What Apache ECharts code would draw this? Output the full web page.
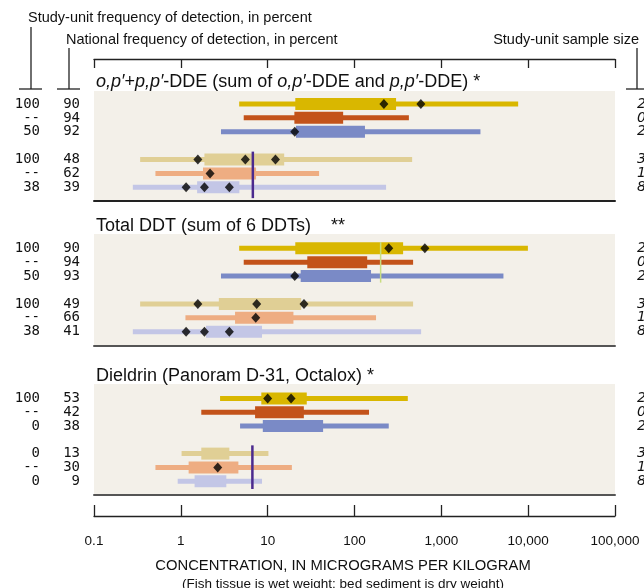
<!DOCTYPE html>
<html><head><meta charset="utf-8">
<script src="https://cdn.jsdelivr.net/npm/echarts/dist/echarts.min.js"></script>
<style>html,body{margin:0;padding:0;background:#fff}#c{width:644px;height:588px}</style>
</head><body><div id="c"></div><script>
// ---------- DATA ----------
const axisTicks = [0.1, 1, 10, 100, 1000, 10000, 100000];
const tickLabels = ['0.1', '1', '10', '100', '1,000', '10,000', '100,000'];
const rowSlots = [0, 1, 2, 4, 5, 6];

// o,p'+p,p'-DDE
const ddeStudyFreq = ['100', '--', '50', '100', '--', '38'];
const ddeNationalFreq = ['90', '94', '92', '48', '62', '39'];
const ddeSampleSize = ['2', '0', '2', '3', '1', '8'];
const ddeLow = [4.7, 5.3, 2.9, 0.34, 0.51, 0.28];
const ddeQ1 = [20.8, 20.3, 21.2, 1.87, 1.80, 1.54];
const ddeQ3 = [301, 74, 132, 15.5, 7.35, 4.72];
const ddeHigh = [7670, 423, 2820, 461, 39.1, 231];
const ddeMarks = [[218, 581], [], [20.5], [1.57, 5.53, 12.3], [2.17], [1.15, 1.87, 3.62]];
const ddeGuideline = 6.75;

// Total DDT
const ddtStudyFreq = ['100', '--', '50', '100', '--', '38'];
const ddtNationalFreq = ['90', '94', '93', '49', '66', '41'];
const ddtSampleSize = ['2', '0', '2', '3', '1', '8'];
const ddtLow = [4.7, 5.3, 2.9, 0.34, 1.13, 0.28];
const ddtQ1 = [20.8, 28.6, 24.0, 2.74, 4.21, 1.95];
const ddtQ3 = [363, 140, 155, 24.3, 19.8, 8.61];
const ddtHigh = [9930, 473, 5190, 473, 177, 585];
const ddtMarks = [[248, 646], [], [20.5], [1.57, 7.48, 26.2], [7.29], [1.15, 1.87, 3.62]];
const ddtGuideline = 200;

// Dieldrin
const dieStudyFreq = ['100', '--', '0', '0', '--', '0'];
const dieNationalFreq = ['53', '42', '38', '13', '30', '9'];
const dieSampleSize = ['2', '0', '2', '3', '1', '8'];
const dieLow = [2.83, 1.72, 4.81, 1.02, 0.51, 0.92];
const dieQ1 = [8.45, 7.16, 8.79, 1.72, 1.23, 1.44];
const dieQ3 = [28.2, 26.1, 43.5, 3.62, 4.60, 3.34];
const dieHigh = [411, 147, 248, 10.2, 19.0, 8.61];
const dieMarks = [[10.0, 18.6], [], [], [], [2.66], []];
const dieGuideline = 6.67;

// ---------- STYLE / LAYOUT ----------
const rowColors = ['#D9B700', '#C3531A', '#7A8AC6', '#E0CF95', '#EEAD82', '#C3C6E6'];
const SANS = '"Liberation Sans", Arial, sans-serif';
const MONO = '"DejaVu Sans Mono", monospace';

const panels = [
  {study: ddeStudyFreq, nat: ddeNationalFreq, size: ddeSampleSize, low: ddeLow, q1: ddeQ1, q3: ddeQ3, high: ddeHigh, marks: ddeMarks, guide: ddeGuideline,
   title: '{i|o,p′}+{i|p,p′}-DDE (sum of {i|o,p′}-DDE and {i|p,p′}-DDE) *',
   top: 91, height: 110, min: -0.935, max: 6.986, titleY: 82, guideColor: '#4B2A8E', guideSpan: [3.43, 6.78], guideWidth: 2.5},
  {study: ddtStudyFreq, nat: ddtNationalFreq, size: ddtSampleSize, low: ddtLow, q1: ddtQ1, q3: ddtQ3, high: ddtHigh, marks: ddtMarks, guide: ddtGuideline,
   title: 'Total DDT (sum of 6 DDTs)    **',
   top: 234, height: 112, min: -1.03, max: 7.03, titleY: 226.5, guideColor: '#C8DD80', guideSpan: [-0.455, 2.47], guideWidth: 1.5},
  {study: dieStudyFreq, nat: dieNationalFreq, size: dieSampleSize, low: dieLow, q1: dieQ1, q3: dieQ3, high: dieHigh, marks: dieMarks, guide: dieGuideline,
   title: 'Dieldrin (Panoram D-31, Octalox) *',
   top: 384, height: 111, min: -1.058, max: 7.007, titleY: 376, guideColor: '#4B2A8E', guideSpan: [3.40, 6.57], guideWidth: 2.5}
];

const grids = [], xAxes = [], yAxes = [], series = [], graphics = [];

function tickFmt(v) {
  const i = axisTicks.findIndex(t => Math.abs(t - v) / t < 1e-6);
  return i >= 0 ? tickLabels[i] : '';
}

panels.forEach((p, i) => {
  grids.push({left: 94, width: 521, top: p.top, height: p.height, show: true, backgroundColor: '#F3F0E9', borderWidth: 0});
  xAxes.push({type: 'log', logBase: 10, min: 0.1, max: 100000, gridIndex: i, position: 'bottom',
    axisLine: {show: true, onZero: false, lineStyle: {color: i === 0 ? '#222' : '#555', width: 2}},
    axisTick: {show: false}, axisLabel: {show: false}, splitLine: {show: false}});
  yAxes.push({type: 'value', inverse: true, min: p.min, max: p.max, gridIndex: i, show: false});

  const barData = p.low.map((v, k) => [rowSlots[k], p.low[k], p.q1[k], p.q3[k], p.high[k], k]);
  series.push({
    type: 'custom', xAxisIndex: i, yAxisIndex: i, clip: false, z: 2,
    encode: {x: [1, 2, 3, 4], y: 0},
    data: barData,
    renderItem: (params, api) => {
      const slot = api.value(0), k = api.value(5);
      const a = api.coord([api.value(1), slot]);
      const b = api.coord([api.value(2), slot]);
      const c = api.coord([api.value(3), slot]);
      const d = api.coord([api.value(4), slot]);
      const col = rowColors[k];
      return {type: 'group', children: [
        {type: 'rect', shape: {x: a[0], y: a[1] - 2.5, width: d[0] - a[0], height: 5}, style: {fill: col}},
        {type: 'rect', shape: {x: b[0], y: b[1] - 6, width: c[0] - b[0], height: 12}, style: {fill: col}},
        {type: 'text', style: {text: p.study[k], x: 40, y: a[1], align: 'right', verticalAlign: 'middle', fontFamily: MONO, fontSize: 14, fill: '#111'}},
        {type: 'text', style: {text: p.nat[k], x: 80, y: a[1], align: 'right', verticalAlign: 'middle', fontFamily: MONO, fontSize: 14, fill: '#111'}},
        {type: 'text', style: {text: p.size[k], x: 637, y: a[1], align: 'left', verticalAlign: 'middle', fontFamily: '"DejaVu Sans", sans-serif', fontStyle: 'italic', fontSize: 14, fill: '#111'}}
      ]};
    }
  });

  series.push({
    type: 'custom', xAxisIndex: i, yAxisIndex: i, clip: false, z: 3,
    encode: {x: 0},
    data: [[p.guide]],
    renderItem: (params, api) => {
      const s = api.coord([api.value(0), p.guideSpan[0]]);
      const e = api.coord([api.value(0), p.guideSpan[1]]);
      return {type: 'line', shape: {x1: s[0], y1: s[1], x2: e[0], y2: e[1]}, style: {stroke: p.guideColor, lineWidth: p.guideWidth}};
    }
  });

  const pts = [];
  p.marks.forEach((arr, k) => arr.forEach(v => pts.push([v, rowSlots[k]])));
  series.push({type: 'scatter', xAxisIndex: i, yAxisIndex: i, symbol: 'diamond', symbolSize: [9, 10], z: 4,
    itemStyle: {color: '#000'}, data: pts, silent: true});

  graphics.push({type: 'text', x: 96, y: p.titleY, style: {text: p.title, fontFamily: SANS, fontSize: 18, fill: '#111', verticalAlign: 'middle',
    rich: {i: {fontStyle: 'italic', fontFamily: SANS, fontSize: 18, fill: '#111'}}}});
});

// top decorative axis
xAxes.push({type: 'log', logBase: 10, min: 0.1, max: 100000, gridIndex: 0, position: 'top', offset: 32,
  axisLine: {show: true, onZero: false, lineStyle: {color: '#222', width: 1.3}},
  axisTick: {show: true, inside: true, length: 9, customValues: axisTicks, lineStyle: {color: '#222', width: 1.3}},
  axisLabel: {show: false}, splitLine: {show: false}});
// bottom labelled axis
xAxes.push({type: 'log', logBase: 10, min: 0.1, max: 100000, gridIndex: 2, position: 'bottom', offset: 21,
  axisLine: {show: true, onZero: false, lineStyle: {color: '#222', width: 1.3}},
  axisTick: {show: true, inside: true, length: 11, customValues: axisTicks, lineStyle: {color: '#222', width: 1.3}},
  axisLabel: {show: true, customValues: axisTicks, formatter: tickFmt, margin: 18, fontFamily: SANS, fontSize: 13.5, color: '#111'},
  splitLine: {show: false}});

// header labels & leader lines
const LC = '#222';
graphics.push(
  {type: 'text', x: 28, y: 18, style: {text: 'Study-unit frequency of detection, in percent', fontFamily: SANS, fontSize: 14.5, fill: '#111', verticalAlign: 'middle'}},
  {type: 'text', x: 66, y: 40, style: {text: 'National frequency of detection, in percent', fontFamily: SANS, fontSize: 14.5, fill: '#111', verticalAlign: 'middle'}},
  {type: 'text', x: 639, y: 40, style: {text: 'Study-unit sample size', fontFamily: SANS, fontSize: 14.5, fill: '#111', align: 'right', verticalAlign: 'middle'}},
  {type: 'line', shape: {x1: 31, y1: 27, x2: 31, y2: 89}, style: {stroke: LC, lineWidth: 1.3}},
  {type: 'line', shape: {x1: 19, y1: 89, x2: 42, y2: 89}, style: {stroke: LC, lineWidth: 1.3}},
  {type: 'line', shape: {x1: 69, y1: 48, x2: 69, y2: 89}, style: {stroke: LC, lineWidth: 1.3}},
  {type: 'line', shape: {x1: 57, y1: 89, x2: 80, y2: 89}, style: {stroke: LC, lineWidth: 1.3}},
  {type: 'line', shape: {x1: 637, y1: 48, x2: 637, y2: 89}, style: {stroke: LC, lineWidth: 1.3}},
  {type: 'line', shape: {x1: 626, y1: 89, x2: 650, y2: 89}, style: {stroke: LC, lineWidth: 1.3}},
  {type: 'text', x: 343, y: 566, style: {text: 'CONCENTRATION, IN MICROGRAMS PER KILOGRAM', fontFamily: SANS, fontSize: 14.8, fill: '#111', align: 'center', verticalAlign: 'middle'}},
  {type: 'text', x: 343, y: 584, style: {text: '(Fish tissue is wet weight; bed sediment is dry weight)', fontFamily: SANS, fontSize: 13.5, fill: '#111', align: 'center', verticalAlign: 'middle'}}
);

const chart = echarts.init(document.getElementById('c'), null, {renderer: 'canvas'});
chart.setOption({
  animation: false,
  grid: grids, xAxis: xAxes, yAxis: yAxes, series: series, graphic: graphics
});
</script></body></html>
